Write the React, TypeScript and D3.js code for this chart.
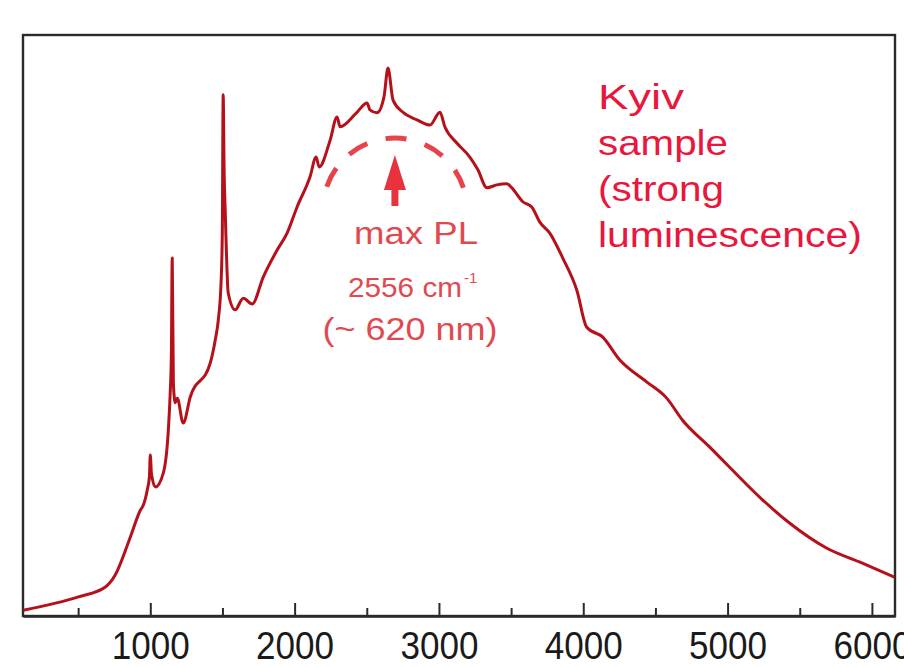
import React, { useEffect, useRef } from "react";
import * as d3 from "d3";

// spectrum (wavenumber, cm-1 / relative intensity)
const wavenumber = [
  120, 502, 689, 758, 862, 931, 952, 979, 994, 1000, 1008, 1035, 1090, 1125, 1138,
  1146, 1152, 1160, 1173, 1187, 1228, 1277, 1415, 1450, 1471, 1491, 1499, 1505,
  1512, 1519, 1540, 1588, 1644, 1706, 1782, 1879, 1948, 2017, 2107, 2149, 2170,
  2246, 2294, 2315, 2432, 2502, 2522, 2571, 2619, 2647, 2682, 2751, 2848, 2938,
  3007, 3041, 3124, 3214, 3270, 3332, 3401, 3470, 3505, 3581, 3643, 3699, 3768,
  3858, 3955, 4024, 4135, 4252, 4439, 4578, 4688, 4875, 5014, 5242, 5429, 5685,
  5934, 6155,
];
const intensity = [
  1.0, 3.3, 5.0, 7.1, 13.6, 18.2, 19.1, 21.7, 24.0, 27.7, 24.5, 22.2, 24.6, 32.0, 38.4,
  45.0, 61.6, 40.0, 36.7, 37.5, 33.2, 37.7, 43.5, 47.5, 50.9, 57.8, 66.0, 89.7,
  76.0, 69.9, 55.6, 52.7, 54.7, 53.7, 58.3, 63.0, 65.9, 70.4, 75.6, 79.0, 77.3,
  81.9, 85.9, 84.2, 86.7, 88.3, 87.1, 86.6, 89.3, 94.3, 88.8, 86.7, 85.4, 84.5,
  86.7, 84.2, 81.4, 79.0, 76.8, 73.7, 74.2, 74.4, 73.7, 71.3, 70.4, 67.8, 65.9,
  61.6, 56.1, 49.7, 48.0, 44.1, 40.3, 37.5, 33.7, 29.1, 25.6, 20.0, 16.0, 11.7,
  9.1, 6.7,
];
const majorTicks = [1000, 2000, 3000, 4000, 5000, 6000];
const minorTicks = [500, 1500, 2500, 3500, 4500, 5500];
const sampleLines = ["Kyiv", "sample", "(strong", "luminescence)"];

export default function App() {
  const ref = useRef<SVGSVGElement>(null);

  useEffect(() => {
    if (!ref.current) return;
    const svg = d3.select(ref.current);
    svg.selectAll("*").remove();

    const width = 904;
    const height = 667;
    const margin = { top: 35, right: 9, bottom: 51, left: 23 };
    const font = "'Liberation Sans', Arial, sans-serif";

    const x = d3.scaleLinear()
      .domain([118, 6160])
      .range([margin.left, width - margin.right]);
    const y = d3.scaleLinear()
      .domain([0, 100])
      .range([height - margin.bottom, margin.top]);

    svg.append("rect")
      .attr("width", width).attr("height", height).attr("fill", "#fff");

    // frame
    svg.append("rect")
      .attr("x", margin.left).attr("y", margin.top)
      .attr("width", width - margin.left - margin.right)
      .attr("height", height - margin.top - margin.bottom)
      .attr("fill", "none").attr("stroke", "#2a2a2a").attr("stroke-width", 2.4);

    const data = wavenumber.map((w, i) => ({ w, v: intensity[i] }));
    const line = d3.line<{ w: number; v: number }>()
      .x(d => x(d.w))
      .y(d => y(d.v))
      .curve(d3.curveMonotoneX);

    svg.append("path")
      .datum(data)
      .attr("fill", "none")
      .attr("stroke", "#b5111b")
      .attr("stroke-width", 3)
      .attr("stroke-linejoin", "round")
      .attr("d", line);

    // axes
    const gMinor = svg.append("g")
      .attr("transform", `translate(0,${height - margin.bottom})`)
      .call(d3.axisBottom(x).tickValues(minorTicks).tickSize(-8).tickSizeOuter(0).tickFormat(() => ""));
    gMinor.select(".domain").remove();
    gMinor.selectAll("line").attr("stroke", "#2a2a2a").attr("stroke-width", 2);

    const gMajor = svg.append("g")
      .attr("transform", `translate(0,${height - margin.bottom})`)
      .call(d3.axisBottom(x).tickValues(majorTicks).tickSize(-13).tickSizeOuter(0)
        .tickPadding(16).tickFormat(d3.format("d")));
    gMajor.select(".domain").attr("stroke", "#2a2a2a").attr("stroke-width", 2.4);
    gMajor.selectAll("line").attr("stroke", "#2a2a2a").attr("stroke-width", 2);
    gMajor.selectAll("text")
      .attr("font-family", font)
      .attr("font-size", 38)
      .attr("fill", "#1a1a1a")
      .attr("textLength", 78)
      .attr("lengthAdjust", "spacingAndGlyphs");

    // max PL annotation
    const ax = x(2695);
    const acy = 210;
    const r = 72;
    const a0 = (-72 * Math.PI) / 180;
    const p = d3.path();
    p.arc(ax, acy, r, a0 - Math.PI / 2, -a0 - Math.PI / 2);
    svg.append("path")
      .attr("d", p.toString())
      .attr("fill", "none")
      .attr("stroke", "#e6434b")
      .attr("stroke-width", 5)
      .attr("stroke-dasharray", "21 19")
      .attr("stroke-dashoffset", -1);

    const arrow = d3.path();
    arrow.moveTo(ax, 155);
    arrow.lineTo(ax + 11, 190);
    arrow.lineTo(ax + 3.5, 190);
    arrow.lineTo(ax + 3.5, 206);
    arrow.lineTo(ax - 3.5, 206);
    arrow.lineTo(ax - 3.5, 190);
    arrow.lineTo(ax - 11, 190);
    arrow.closePath();
    svg.append("path").attr("d", arrow.toString()).attr("fill", "#e8333c");

    const ann = svg.append("g").attr("font-family", font).attr("fill", "#df4a50");
    ann.append("text")
      .attr("x", 416).attr("y", 244).attr("text-anchor", "middle")
      .attr("font-size", 31).attr("textLength", 124).attr("lengthAdjust", "spacingAndGlyphs")
      .text("max PL");
    const t2 = ann.append("text").attr("x", 348).attr("y", 297).attr("font-size", 27);
    t2.append("tspan").attr("textLength", 114).attr("lengthAdjust", "spacingAndGlyphs").text("2556 cm");
    t2.append("tspan").attr("font-size", 15).attr("dy", -14).attr("dx", 2).text("-1");
    ann.append("text")
      .attr("x", 410).attr("y", 340).attr("text-anchor", "middle")
      .attr("font-size", 31).attr("textLength", 175).attr("lengthAdjust", "spacingAndGlyphs")
      .text("(~ 620 nm)");

    // sample label
    const lab = svg.append("g").attr("font-family", font).attr("fill", "#e8173d").attr("font-size", 35);
    const lens = [86, 130, 126, 264];
    sampleLines.forEach((s, i) => {
      lab.append("text")
        .attr("x", 598).attr("y", 109 + i * 46)
        .attr("textLength", lens[i]).attr("lengthAdjust", "spacingAndGlyphs")
        .text(s);
    });
  }, []);

  return (
    <svg
      ref={ref}
      width={904}
      height={667}
      style={{ position: "absolute", left: 0, top: 0, display: "block" }}
    />
  );
}
